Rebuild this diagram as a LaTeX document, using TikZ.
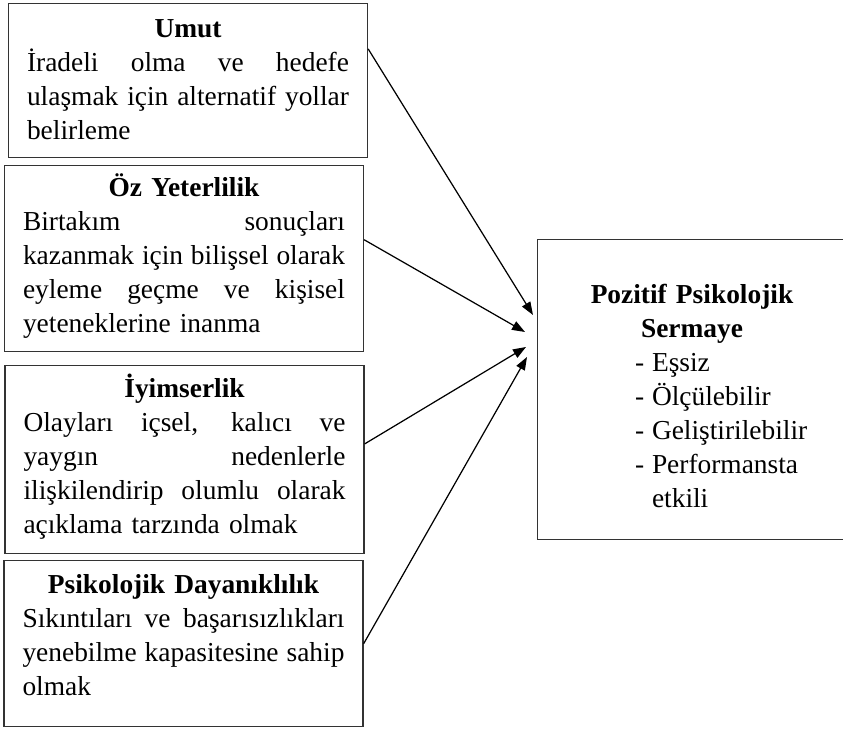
\documentclass[tikz,border=0pt]{standalone}
\usepackage{fontspec}
\setmainfont{Liberation Serif}
\usetikzlibrary{arrows.meta}
\newcommand{\jline}[1]{\leavevmode\hbox to \linewidth{\spaceskip=0.25em plus 1fil\xspaceskip=\spaceskip\relax #1}}
\newcommand{\lline}[1]{\makebox[\linewidth][l]{#1}}
\newcommand{\pline}[2]{\makebox[\linewidth][l]{\hspace{1.58cm}\makebox[0.34cm][l]{#1}#2}}

\begin{document}
\begin{tikzpicture}
    [x=0.02cm,y=-0.02cm,
     factor/.style={draw=black!80,thick,align=center,text width=6.44cm,anchor=north,
       inner xsep=0.37cm,inner ysep=0pt,font=\fontsize{15.6}{19.35}\selectfont},
     leads/.style={-{Triangle[length=0.26cm,width=0.19cm]},line width=0.7pt}]
    \useasboundingbox (0,0) rectangle (843,729);
    \node [factor,text height=0.68cm,text depth=2.4cm] (umut) at (188,3)
      {\textbf{Umut}\\
       \jline{İradeli olma ve hedefe}\\
       \jline{ulaşmak için alternatif yollar}\\
       \lline{belirleme}};
    \node [factor,text height=0.62cm,text depth=3.1cm] (oz) at (184,165)
      {\textbf{Öz Yeterlilik}\\
       \jline{Birtakım sonuçları}\\
       \jline{kazanmak için bilişsel olarak}\\
       \jline{eyleme geçme ve kişisel}\\
       \lline{yeteneklerine inanma}};
    \node [factor,text height=0.64cm,text depth=3.12cm] (iyimser) at (184.5,365)
      {\textbf{İyimserlik}\\
       \jline{Olayları içsel, kalıcı ve}\\
       \jline{yaygın nedenlerle}\\
       \jline{ilişkilendirip olumlu olarak}\\
       \lline{açıklama tarzında olmak}};
    \node [factor,text height=0.66cm,text depth=2.66cm] (dayanik) at (183.5,560)
      {\textbf{Psikolojik Dayanıklılık}\\
       \jline{Sıkıntıları ve başarısızlıkları}\\
       \jline{yenebilme kapasitesine sahip}\\
       \lline{olmak}};
    \node [factor,text width=5.44cm,text height=1.28cm,text depth=4.72cm] (pps) at (692,239)
      {\textbf{Pozitif Psikolojik}\\
       \textbf{Sermaye}\\
       \pline{-}{Eşsiz}\\
       \pline{-}{Ölçülebilir}\\
       \pline{-}{Geliştirilebilir}\\
       \pline{-}{Performansta}\\
       \pline{}{etkili}};
    \coordinate (t1) at (533,315);
    \coordinate (t2) at (525,332);
    \coordinate (t3) at (526,347);
    \coordinate (t4) at (527,357);
    \draw [leads] (umut.10) -- (t1);
    \draw [leads] (oz.6) -- (t2);
    \draw [leads] (iyimser.5) -- (t3);
    \draw [leads] (dayanik.east) -- (t4);
  \end{tikzpicture}
\end{document}
